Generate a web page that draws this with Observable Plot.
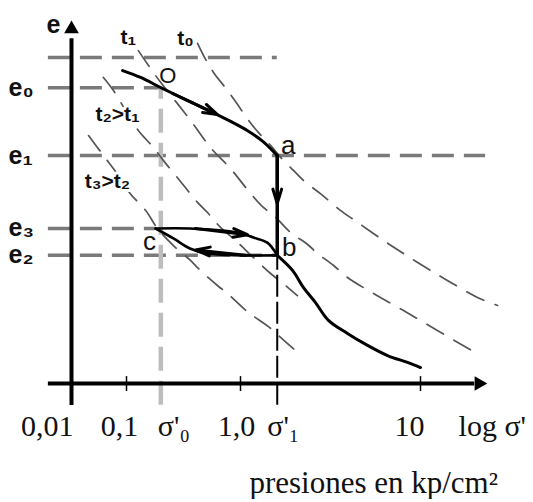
<!DOCTYPE html>
<html><head><meta charset="utf-8">
<script src="https://cdn.jsdelivr.net/npm/d3@7"></script>
<script src="https://cdn.jsdelivr.net/npm/@observablehq/plot@0.6"></script>
<style>
html,body{margin:0;padding:0;background:#fff;}
#chart svg{display:block;}
#caption{font-family:"Liberation Serif","Times New Roman",serif;font-size:31px;line-height:32px;height:32px;text-align:right;padding-right:35px;color:#111;white-space:nowrap;}
</style></head><body>
<div id="chart"></div>
<div id="caption">presiones en kp/cm²</div>
<script>
// ---- data (schematic e – log σ' diagram) ----
const xTicks = [0.1, 1, 10];
const sigma0 = 0.2, sigma1 = 1.6;
const sigmaMin = 0.0038, sigmaMax = 23;
const eLabels = ["e₀", "e₁", "e₃", "e₂"];
const eValues = [0.815, 0.628, 0.427, 0.353];
const eTop = 0.898;
const pointLabels = ["O", "a", "b", "c"];
const pointX = [0.2, 1.6, 1.6, 0.18];
const pointE = [0.815, 0.628, 0.353, 0.427];

// main consolidation path
const curveOA = [[0.085,0.862],[0.133,0.843],[0.2,0.815],[0.33,0.782],[0.55,0.749],[0.82,0.722],[1.09,0.697],[1.33,0.667],[1.6,0.628]];
const dropAB = [[1.6,0.628],[1.6,0.353]];
const curveB = [[1.6,0.353],[1.95,0.311],[2.24,0.264],[2.61,0.223],[3.08,0.174],[3.93,0.138],[5.08,0.105],[6.56,0.077],[8.47,0.058],[10,0.044]];
const reloadCB = [[0.18,0.427],[0.36,0.427],[0.94,0.416],[1.18,0.402],[1.41,0.388],[1.6,0.353]];
const unloadBC = [[1.6,0.353],[1.0,0.353],[0.51,0.358],[0.36,0.372],[0.26,0.399],[0.18,0.427]];
// direction arrows [x1,e1,x2,e2]
const arrowsData = [[0.253,0.799,0.628,0.741],[1.6,0.628,1.6,0.496],[0.403,0.427,1.094,0.410],[1.066,0.353,0.403,0.368]];

// isochrones
const t0 = [[0.42,0.937],[0.49,0.895],[0.58,0.857],[0.77,0.807],[0.94,0.769],[1.09,0.730],[1.26,0.691],[1.47,0.656],[1.67,0.623],[1.97,0.587],[2.24,0.559],[2.78,0.523],[3.59,0.477],[4.47,0.444],[6.23,0.394],[8.05,0.358],[11.4,0.311],[14.1,0.284],[20.7,0.237],[26.8,0.215]];
const t1 = [[0.127,0.917],[0.156,0.876],[0.2,0.829],[0.28,0.771],[0.364,0.725],[0.546,0.650],[0.817,0.592],[1.14,0.523],[1.34,0.485],[1.53,0.463],[1.90,0.416],[2.36,0.383],[2.68,0.358],[3.29,0.325],[3.93,0.292],[5.48,0.248],[8.05,0.201],[12.4,0.146],[20.2,0.085]];
const t2 = [[0.038,0.843],[0.058,0.807],[0.096,0.752],[0.127,0.697],[0.1725,0.650],[0.211,0.614],[0.28,0.567],[0.42,0.499],[0.513,0.471],[0.668,0.430],[0.904,0.394],[1.18,0.347],[1.47,0.303],[1.73,0.275],[2.07,0.242]];
const t3 = [[0.0204,0.683],[0.0382,0.628],[0.0715,0.573],[0.108,0.523],[0.147,0.477],[0.187,0.427],[0.258,0.380],[0.364,0.339],[0.446,0.311],[0.628,0.270],[0.769,0.248],[1.04,0.207],[1.17,0.187],[1.47,0.152],[1.67,0.127],[2.02,0.091]];

// ---- build ----
const sans = "Liberation Sans, Arial, sans-serif";
const serif = "Liberation Serif, Times New Roman, serif";
const ink = "#111";
const X = d => d[0], Y = d => d[1];

const hLines = [
  {e: eTop, x2: sigma1},
  {e: eValues[0], x2: sigma0},
  {e: eValues[1], x2: sigmaMax},
  {e: eValues[2], x2: pointX[3]},
  {e: eValues[3], x2: sigma1}
];

const isoStyle = {x: X, y: Y, stroke: "#555", strokeWidth: 1.7, strokeDasharray: "19,12", curve: "catmull-rom"};
const mainStyle = {x: X, y: Y, stroke: "#000", strokeWidth: 3, curve: "catmull-rom"};

const tickText = (label, x, anchor, dx) =>
  Plot.text([label], {x: () => x, y: () => 0, text: d => d, textAnchor: anchor, dx, dy: 52,
    lineAnchor: "bottom", fontFamily: serif, fontSize: 30, fill: ink});

const ptText = (i, dx, dy, size) =>
  Plot.text([pointLabels[i]], {x: () => pointX[i], y: () => pointE[i], text: d => d, dx, dy,
    fontFamily: sans, fontSize: size, fill: ink});

const chart = Plot.plot({
  width: 533, height: 467,
  marginLeft: 8, marginTop: 0, marginRight: 0, marginBottom: 0,
  x: {type: "log", domain: [0.01, 0.1, 1, 10], range: [71, 126, 240, 420], axis: null},
  y: {domain: [0, 1], range: [383, 20], axis: null},
  style: {background: "white", overflow: "visible"},
  marks: [
    // reference levels
    Plot.ruleY(hLines, {y: "e", x1: () => sigmaMin, x2: "x2", stroke: "#7a7a7a", strokeWidth: 3.5, strokeDasharray: "22,10"}),
    Plot.ruleX([sigma0], {x: d => d, y1: -0.06, y2: eValues[0], stroke: "#bdbdbd", strokeWidth: 4.5, strokeDasharray: "24,10"}),
    // isochrones
    Plot.line(t0, isoStyle),
    Plot.line(t1, isoStyle),
    Plot.line(t2, isoStyle),
    Plot.line(t3, isoStyle),
    Plot.ruleX([sigma1], {x: d => d, y1: -0.06, y2: eValues[3], stroke: "#000", strokeWidth: 2, strokeDasharray: "22,5"}),
    // axes
    Plot.ruleY([0], {y: d => d, x1: sigmaMin, x2: 20, stroke: "#000", strokeWidth: 4}),
    Plot.ruleX([0.01], {x: d => d, y1: -0.0606, y2: 0.95, stroke: "#000", strokeWidth: 4}),
    Plot.dot([[0.01, 0.9766]], {x: X, y: Y, symbol: "triangle2", r: 7, fill: "#000"}),
    Plot.dot([[21.1, 0]], {x: X, y: Y, symbol: "triangle2", r: 7, fill: "#000", rotate: 90}),
    Plot.ruleX(xTicks, {x: d => d, y1: -0.022, y2: 0.019, stroke: "#000", strokeWidth: 1.5}),
    // consolidation path
    Plot.line(curveOA, mainStyle),
    Plot.line(dropAB, {x: X, y: Y, stroke: "#000", strokeWidth: 3.5}),
    Plot.line(curveB, mainStyle),
    Plot.line(reloadCB, {...mainStyle, strokeWidth: 2.6}),
    Plot.line(unloadBC, {...mainStyle, strokeWidth: 2.6}),
    Plot.arrow(arrowsData, {x1: d => d[0], y1: d => d[1], x2: d => d[2], y2: d => d[3],
      stroke: "#000", strokeWidth: 3, headLength: 7.5, headAngle: 34}),
    // axis labels
    tickText("0,01", 0.01, "end", 2),
    tickText("0,1", 0.1, "middle", -7),
    tickText("σ'₀", sigma0, "start", -3),
    tickText("1,0", 1, "middle", -4),
    tickText("σ'₁", sigma1, "start", -10),
    tickText("10", 10, "middle", -11),
    tickText("log σ'", sigmaMax, "start", -27),
    Plot.text(["e"], {x: () => 0.01, y: () => 0.9766, text: d => d, dx: -18, dy: -4, fontFamily: sans, fontWeight: "bold", fontSize: 25, fill: ink}),
    Plot.text(eLabels, {y: (d, i) => eValues[i], text: d => d, frameAnchor: "left", textAnchor: "start", fontFamily: sans, fontWeight: "bold", fontSize: 25, fill: ink}),
    // point labels
    ptText(0, 7, -12, 22),
    ptText(1, 11, -10, 26),
    ptText(2, 12, -8, 26),
    ptText(3, -6, 13, 26),
    // isochrone labels
    Plot.text(["t₁"], {x: () => t1[0][0], y: () => t1[0][1], text: d => d, dx: -10, dy: -13, fontFamily: sans, fontWeight: "bold", fontSize: 21, fill: ink}),
    Plot.text(["t₀"], {x: () => t0[0][0], y: () => t0[0][1], text: d => d, dx: -12, dy: -5, fontFamily: sans, fontWeight: "bold", fontSize: 21, fill: ink}),
    Plot.text(["t₂>t₁"], {x: () => t2[2][0], y: () => t2[2][1], text: d => d, dx: -8, dy: 4, fontFamily: sans, fontWeight: "bold", fontSize: 21, fill: ink, stroke: "white", strokeWidth: 6, paintOrder: "stroke"}),
    Plot.text(["t₃>t₂"], {x: () => t3[2][0], y: () => t3[2][1], text: d => d, dx: -11, dy: 6, fontFamily: sans, fontWeight: "bold", fontSize: 21, fill: ink, stroke: "white", strokeWidth: 6, paintOrder: "stroke"})
  ]
});
document.getElementById("chart").appendChild(chart);
</script>
</body></html>
